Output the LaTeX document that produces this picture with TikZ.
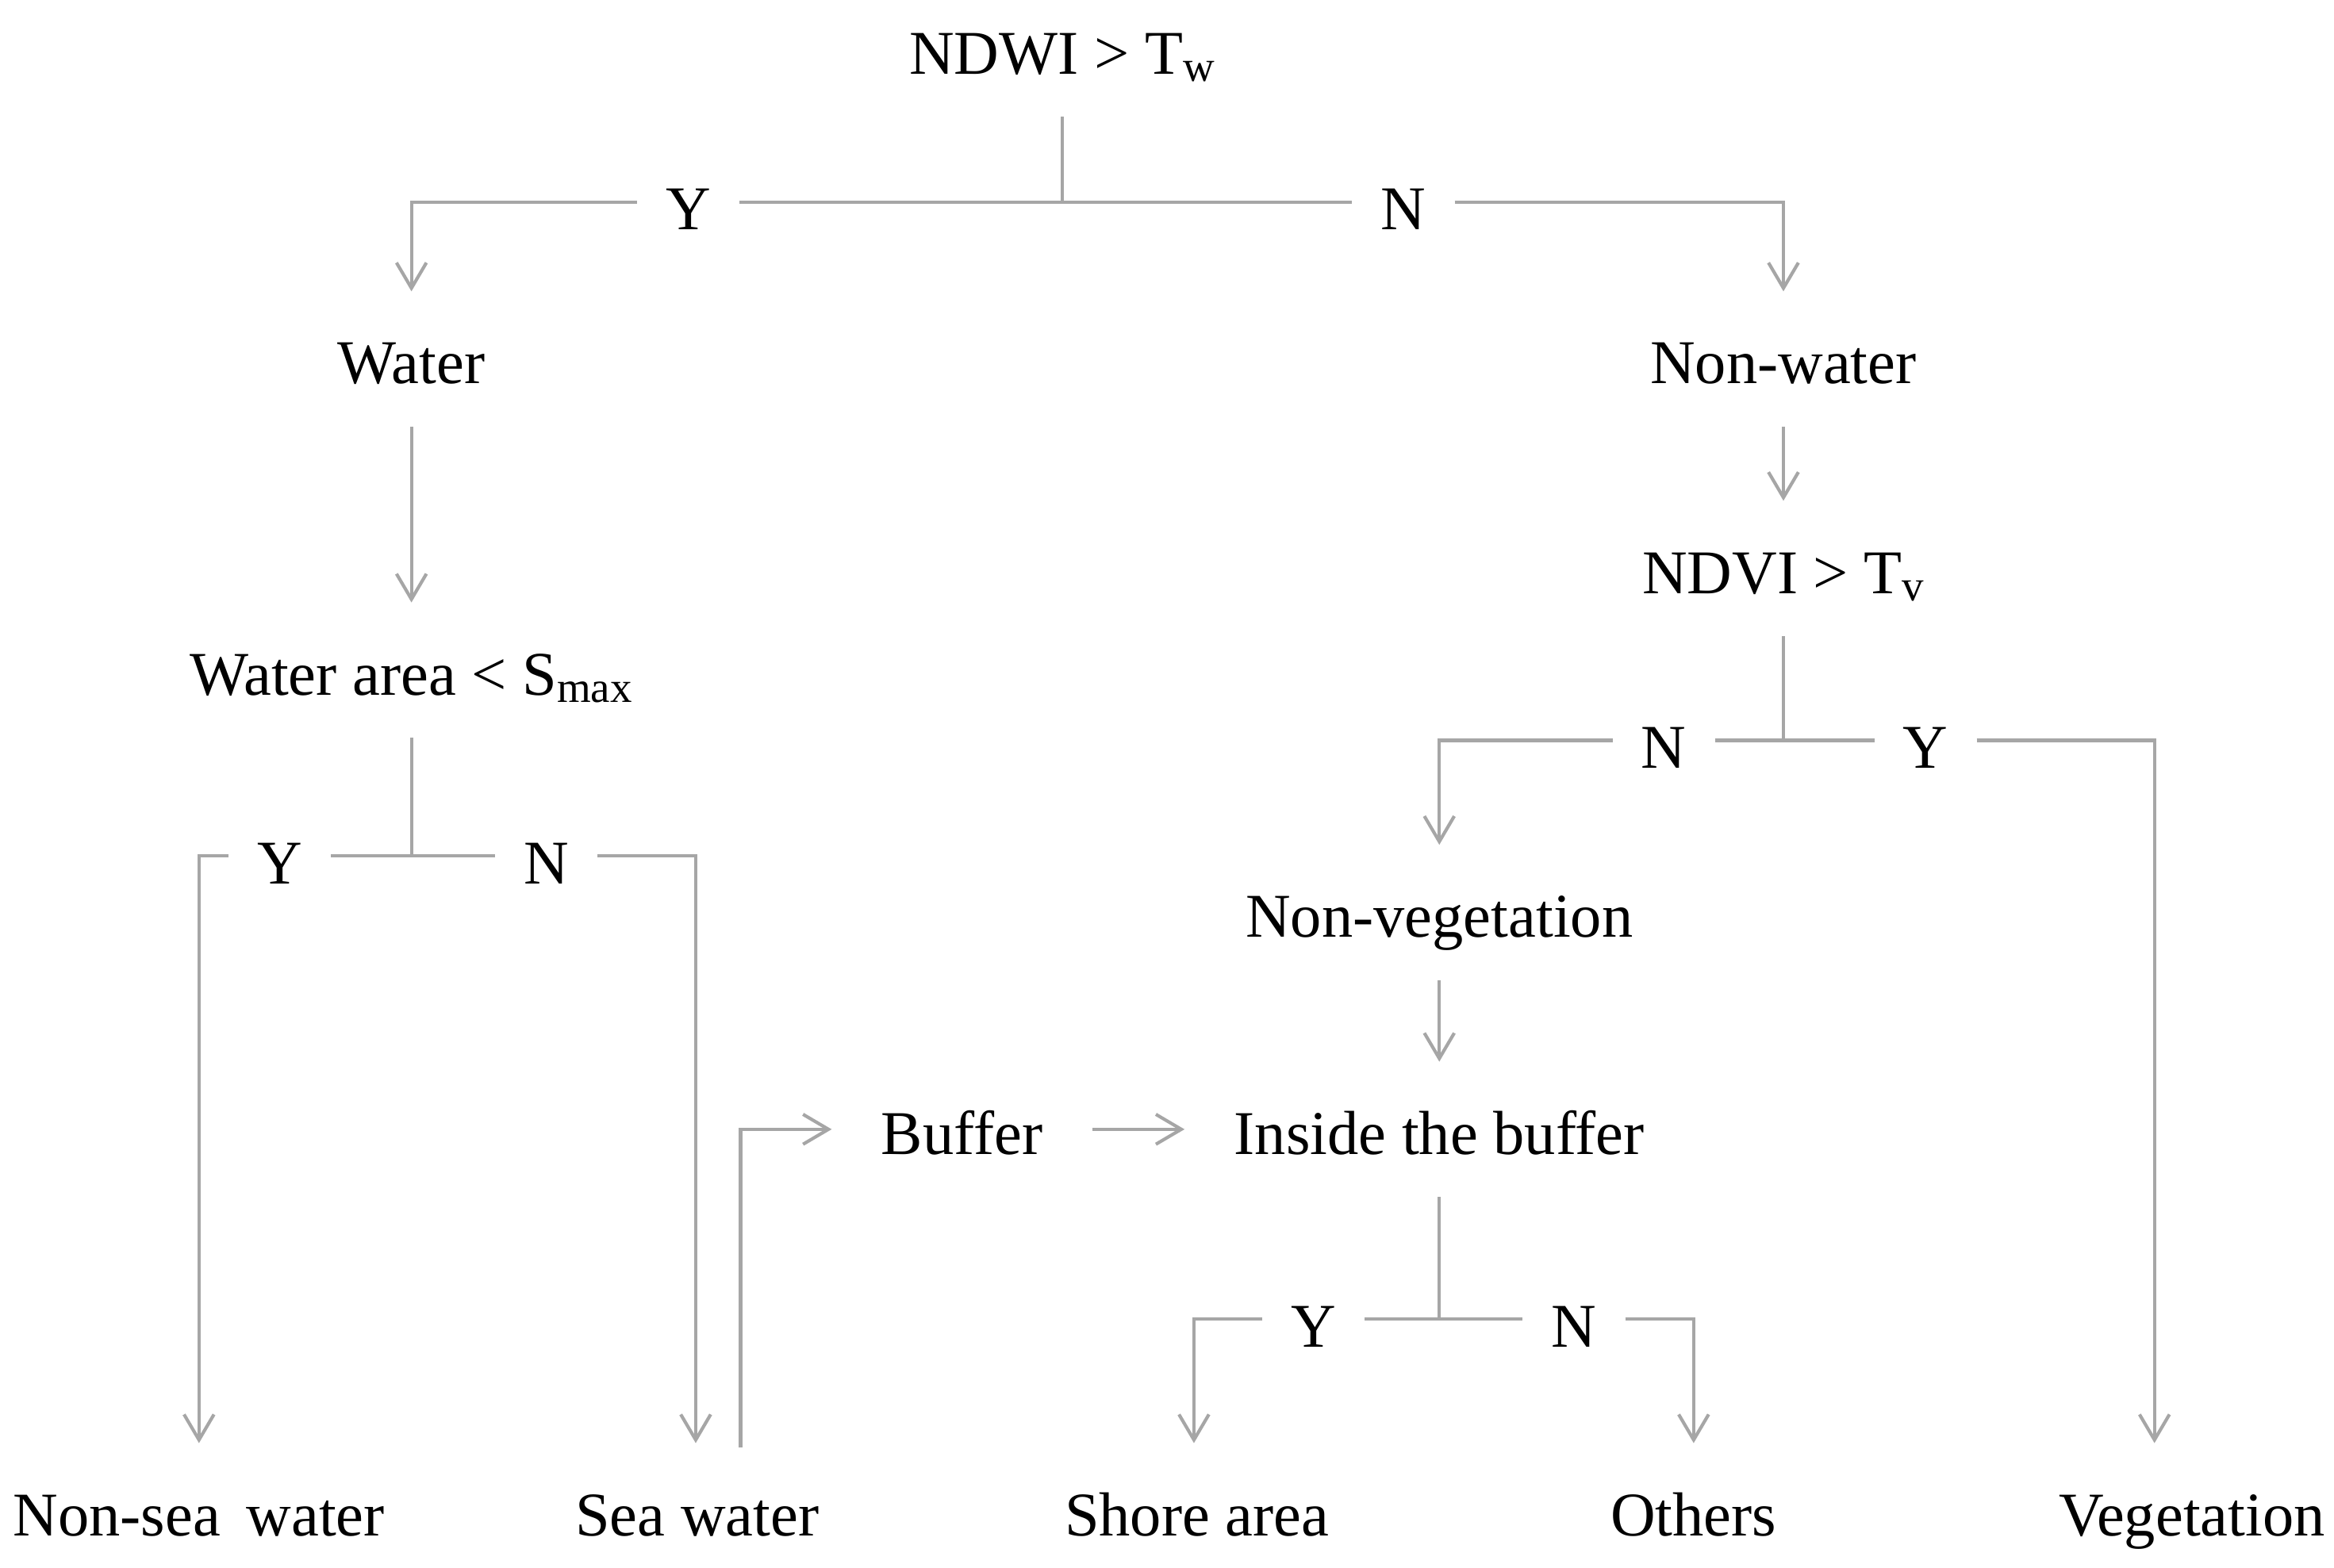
\documentclass[tikz,border=0pt]{standalone}
\usepackage{fontspec}
\setmainfont{Liberation Serif}
\usetikzlibrary{arrows.meta}

\tikzset{
  txt/.style={inner xsep=33pt, inner ysep=0pt, minimum height=90pt, text height=0.9em, text depth=0.1em},
  lbl/.style={inner xsep=19pt, inner ysep=0pt, text height=0.95em, text depth=0.05em},
  ln/.style={draw={rgb,255:red,166;green,166;blue,166}, line width=2.2pt},
  arr/.style={ln, -{Straight Barb[length=17pt,width=20pt]}}
}

\begin{document}
\begin{tikzpicture}[x=1pt,y=1pt,yscale=-1,xscale=1]
	\fontsize{41.6}{50}\selectfont
	\useasboundingbox (0,0) rectangle (1560,1048);
	\node[txt] (ndwi) at (710,33) {NDWI > T\textsubscript{w}};
	\node[txt] (water) at (275,240) {Water};
	\node[txt] (nonwater) at (1192,240) {Non-water};
	\node[txt] (area) at (275,448) {Water area < S\textsubscript{max}};
	\node[txt] (ndvi) at (1192,380) {NDVI > T\textsubscript{v}};
	\node[txt] (nonveg) at (962,610) {Non-vegetation};
	\node[txt] (buffer) at (643,755) {Buffer};
	\node[txt] (inside) at (962,755) {Inside the buffer};
	\node[txt] (nonsea) at (133,1010) {Non-sea\, water};
	\node[txt] (sea) at (466,1010) {Sea water};
	\node[txt] (shore) at (800,1010) {Shore area};
	\node[txt] (others) at (1132,1010) {Others};
	\node[txt] (veg) at (1465,1010) {Vegetation};
	\node[lbl] (yes1) at (460,135) {Y};
	\node[lbl] (no1) at (938,135) {N};
	\node[lbl] (yes2) at (187,572) {Y};
	\node[lbl] (no2) at (365,572) {N};
	\node[lbl] (no3) at (1112,495) {N};
	\node[lbl] (yes3) at (1287,495) {Y};
	\node[lbl] (yes4) at (878,882) {Y};
	\node[lbl] (no4) at (1052,882) {N};

	\draw[ln] (ndwi.south) -- (ndwi.south |- yes1);
	\draw[ln] (yes1.east) -- (no1.west);
	\draw[arr] (yes1.west) -| (water.north);
	\draw[arr] (no1.east) -| (nonwater.north);
	\draw[arr] (water) -- (area);
	\draw[arr] (nonwater) -- (ndvi);

	\draw[ln] (area.south) -- (area.south |- yes2);
	\draw[ln] (yes2.east) -- (no2.west);
	\draw[arr] (yes2.west) -| (nonsea.north);
	\draw[arr] (no2.east) -| ([xshift=-1pt]sea.north);
	\draw[arr] ([xshift=29pt,yshift=3pt]sea.north) |- (buffer.west);
	\draw[arr] (buffer) -- (inside);

	\draw[ln] (ndvi.south) -- (ndvi.south |- no3);
	\draw[ln] (no3.east) -- (yes3.west);
	\draw[arr] (no3.west) -| (nonveg.north);
	\draw[arr] (yes3.east) -| ([xshift=-25pt]veg.north);
	\draw[arr] (nonveg) -- (inside);

	\draw[ln] (inside.south) -- (inside.south |- yes4);
	\draw[ln] (yes4.east) -- (no4.west);
	\draw[arr] (yes4.west) -| ([xshift=-2pt]shore.north);
	\draw[arr] (no4.east) -| (others.north);
\end{tikzpicture}
\end{document}
